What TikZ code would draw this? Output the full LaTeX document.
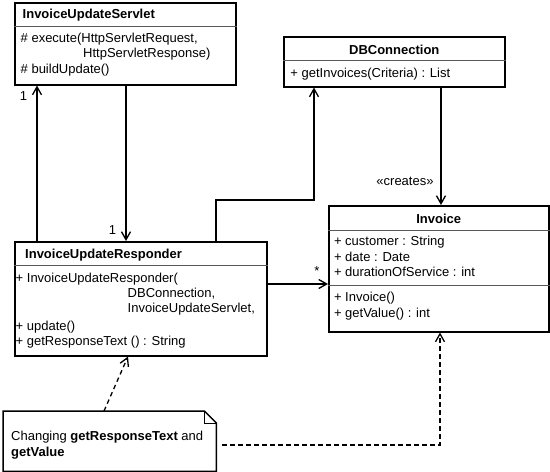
\documentclass[tikz,border=0pt]{standalone}
\usepackage{fontspec}
\setmainfont{Liberation Sans}
\usetikzlibrary{arrows.meta,calc}

\tikzset{
    cls/.style={draw, line width=1.5pt, inner sep=0pt, anchor=north west},
    ttl/.style={font=\bfseries, inner sep=0pt, anchor=base},
    mbr/.style={inner sep=0pt, anchor=base west},
    sep/.style={draw=gray!70!black, line width=1pt},
    assoc/.style={line width=1.3pt, -{Straight Barb[length=8pt,width=9pt,line width=1.3pt]}},
    dep/.style={assoc, dash pattern=on 4.5pt off 3.5pt},
}

\begin{document}
\fontsize{13}{15.5}\selectfont
\begin{tikzpicture}[x=1pt, y=-1pt]
    \useasboundingbox (0,0) rectangle (550,472);

        % classes
        \node[cls, minimum width=221, minimum height=82] (servlet) at (14,2) {};
        \node[cls, minimum width=221, minimum height=50] (dbconn) at (283,36) {};
        \node[cls, minimum width=220, minimum height=126] (invoice) at (328,205) {};
        \node[cls, minimum width=252, minimum height=114] (responder) at (14,241) {};

        \draw[sep] ([shift={(0,24)}]servlet.north west) -- ([shift={(0,24)}]servlet.north east);
        \draw[sep] ([shift={(0,24)}]dbconn.north west) -- ([shift={(0,24)}]dbconn.north east);
        \draw[sep] ([shift={(0,25)}]invoice.north west) -- ([shift={(0,25)}]invoice.north east);
        \draw[sep] ([shift={(0,80)}]invoice.north west) -- ([shift={(0,80)}]invoice.north east);
        \draw[sep] ([shift={(0,24)}]responder.north west) -- ([shift={(0,24)}]responder.north east);

        \node[ttl, anchor=base west] (servlet-name) at ([shift={(8.5,16.3)}]servlet.north west) {InvoiceUpdateServlet};
        \node[mbr] (servlet-m1) at ([shift={(6.5,40.3)}]servlet.north west) {\# execute(HttpServletRequest,};
        \node[mbr] (servlet-m2) at ([shift={(69,55.7)}]servlet.north west) {HttpServletResponse)};
        \node[mbr] (servlet-m3) at ([shift={(6.5,71)}]servlet.north west) {\# buildUpdate()};

        \node[ttl] (dbconn-name) at ([shift={(0,18)}]dbconn.north) {DBConnection};
        \node[mbr] (dbconn-m1) at ([shift={(7.2,41.3)}]dbconn.north west) {+ getInvoices(Criteria) : List};

        \node[ttl] (invoice-name) at ([shift={(0,18.3)}]invoice.north) {Invoice};
        \node[mbr] (invoice-a1) at ([shift={(5.8,40.6)}]invoice.north west) {+ customer : String};
        \node[mbr] (invoice-a2) at ([shift={(5.8,56.1)}]invoice.north west) {+ date : Date};
        \node[mbr] (invoice-a3) at ([shift={(5.8,71.6)}]invoice.north west) {+ durationOfService : int};
        \node[mbr] (invoice-m1) at ([shift={(5.8,96.5)}]invoice.north west) {+ Invoice()};
        \node[mbr] (invoice-m2) at ([shift={(5.8,112)}]invoice.north west) {+ getValue() : int};

        \node[ttl, anchor=base west] (responder-name) at ([shift={(11,17.3)}]responder.north west) {InvoiceUpdateResponder};
        \node[mbr] (responder-m1) at ([shift={(1.5,41)}]responder.north west) {+ InvoiceUpdateResponder(};
        \node[mbr] (responder-m2) at ([shift={(113.5,56)}]responder.north west) {DBConnection,};
        \node[mbr] (responder-m3) at ([shift={(113.5,71)}]responder.north west) {InvoiceUpdateServlet,};
        \node[mbr] (responder-m4) at ([shift={(1.5,89)}]responder.north west) {+ update()};
        \node[mbr] (responder-m5) at ([shift={(1.5,104)}]responder.north west) {+ getResponseText () : String};

        % note
        \node[inner sep=0pt, anchor=north west, minimum width=213, minimum height=60] (note) at (3,411) {};
        \draw[line width=1.5pt] (note.north west) -- ([shift={(-12,0)}]note.north east)
            -- ([shift={(0,12)}]note.north east) -- (note.south east) -- (note.south west) -- cycle;
        \draw[line width=1pt] ([shift={(-12,0)}]note.north east) |- ([shift={(0,12)}]note.north east);
        \node[mbr] (note-l1) at ([shift={(8,29)}]note.north west) {Changing \textbf{getResponseText} and};
        \node[mbr] (note-l2) at ([shift={(8,45)}]note.north west) {\textbf{getValue}};

        % connectors
        \draw[assoc] ([shift={(23,0)}]responder.north west) -- ([shift={(23,0)}]servlet.south west);
        \node[inner sep=0pt] (servlet-mult) at ([shift={(9.5,11)}]servlet.south west) {1};
        \draw[assoc] ([shift={(112,0)}]servlet.south west) -- ([shift={(112,0)}]responder.north west);
        \node[inner sep=0pt] (responder-mult) at ([shift={(98.5,-11)}]responder.north west) {1};
        \draw[assoc] ([shift={(202,0)}]responder.north west) -- ++(0,-41) -| ([shift={(31,0)}]dbconn.south west);
        \draw[assoc] ([shift={(158,0)}]dbconn.south west) -- ([shift={(113,0)}]invoice.north west);
        \node[inner sep=0pt, anchor=base] (creates) at ([shift={(77,-20)}]invoice.north west) {«creates»};
        \draw[assoc] ([shift={(0,43)}]responder.north east) -- ([shift={(0,79)}]invoice.north west);
        \node[inner sep=0pt, anchor=base] (invoice-mult) at ([shift={(-11,70)}]invoice.north west) {*};
        \draw[dep] ([shift={(101,0)}]note.north west) -- ([shift={(114,0)}]responder.south west);
        \draw[dep] ([shift={(6,34)}]note.north east) -| ([shift={(112,0)}]invoice.south west);
\end{tikzpicture}
\end{document}
